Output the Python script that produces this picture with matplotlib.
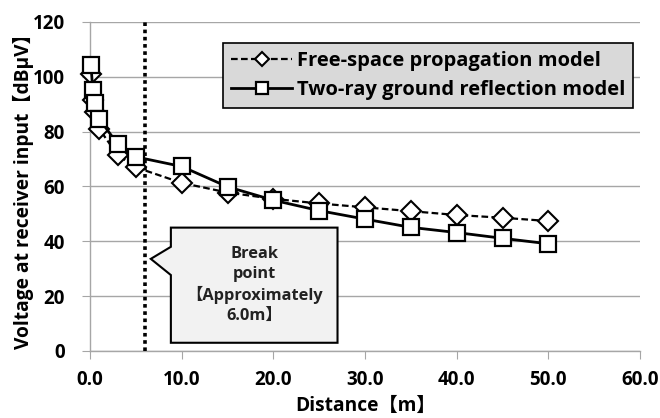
import matplotlib
matplotlib.use("Agg")
import matplotlib.pyplot as plt
from matplotlib.patches import Polygon

# distance [m]
distance = [0.1, 0.3, 0.5, 1, 3, 5, 10, 15, 20, 25, 30, 35, 40, 45, 50]
free_space = [101.0, 91.5, 87.0, 81.0, 71.5, 67.0, 61.3, 57.8, 55.5, 53.8, 52.4, 51.0, 49.6, 48.6, 47.4]
two_ray = [104.4, 95.3, 90.5, 84.7, 75.5, 70.8, 67.3, 59.9, 55.0, 51.2, 48.1, 45.1, 43.2, 41.1, 39.1]

break_point = 6.0
series_labels = ["Free-space propagation model", "Two-ray ground reflection model"]
callout_text = "Break\npoint\n【Approximately\n6.0m】"

FONT = ["Open Sans", "Noto Sans CJK JP", "DejaVu Sans"]
plt.rcParams["font.family"] = FONT
plt.rcParams["font.weight"] = "bold"

fig = plt.figure(figsize=(6.6, 4.18), dpi=100)
ax = fig.add_axes([0.1364, 0.1603, 0.8333, 0.7871])

ax.plot(distance, free_space, linestyle=(0, (3, 1.5)), color="black", linewidth=1.6,
        marker="D", markersize=10, markerfacecolor="white", markeredgecolor="black",
        markeredgewidth=1.5, label=series_labels[0], zorder=4, clip_on=False)
ax.plot(distance, two_ray, linestyle="-", color="black", linewidth=2.0,
        marker="s", markersize=11.5, markerfacecolor="white", markeredgecolor="black",
        markeredgewidth=1.6, label=series_labels[1], zorder=5, clip_on=False)

ax.axvline(break_point, color="black", linestyle=(0, (1, 1)), linewidth=2.6, zorder=3)

# callout box with pointer towards the break point line
x0, x1, y0, y1 = 8.82, 27.0, 3.0, 45.0
callout = Polygon([(x0, y1), (x1, y1), (x1, y0), (x0, y0), (x0, 27.7),
                   (6.63, 33.6), (x0, 38.0)], closed=True,
                  facecolor="#f2f2f2", edgecolor="black", linewidth=1.5, zorder=6)
ax.add_patch(callout)
ax.text((x0 + x1) / 2, (y0 + y1) / 2, callout_text, ha="center", va="center",
        fontsize=11.8, fontweight="bold", linespacing=1.3, color="#222222", zorder=7)

ax.set_xlim(0, 60)
ax.set_ylim(0, 120)
ax.set_xticks(range(0, 61, 10))
ax.set_xticklabels([f"{v:.1f}" for v in range(0, 61, 10)])
ax.set_yticks(range(0, 121, 20))

ax.grid(axis="y", color="#a6a6a6", linewidth=1.0, zorder=0)
ax.set_axisbelow(True)
for side in ("top", "right"):
    ax.spines[side].set_visible(False)
for side in ("left", "bottom"):
    ax.spines[side].set_color("#a6a6a6")
    ax.spines[side].set_linewidth(1.0)
ax.tick_params(axis="both", direction="out", length=6, color="#a6a6a6",
               labelsize=13.5)
ax.tick_params(axis="x", pad=8)
ax.tick_params(axis="y", pad=12)
for lab in ax.get_xticklabels() + ax.get_yticklabels():
    lab.set_fontweight("bold")

ax.set_xlabel("Distance【m】", fontsize=13.8, fontweight="bold", labelpad=4)
ax.set_ylabel("Voltage at receiver input【dBμV】", fontsize=13.8, fontweight="bold", labelpad=-1)

leg = ax.legend(loc="upper right", bbox_to_anchor=(1.006, 0.967), fancybox=False,
                framealpha=1, facecolor="#d9d9d9", edgecolor="black",
                prop={"size": 14.5, "weight": "bold"}, handlelength=3.0,
                borderpad=0.4, labelspacing=0.45, handletextpad=0.25, markerscale=0.75)
leg.get_frame().set_linewidth(1.2)
leg.set_zorder(8)

fig.savefig("out.png", dpi=100)
